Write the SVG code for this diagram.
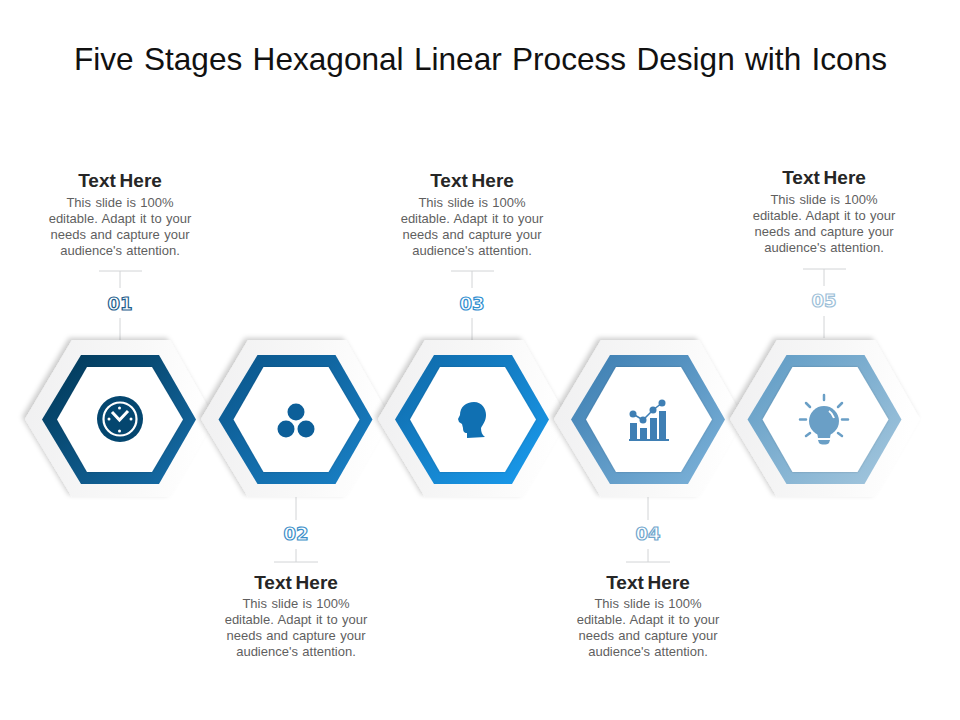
<svg xmlns="http://www.w3.org/2000/svg" width="960" height="720" viewBox="0 0 960 720">
<style>
text{font-family:"Liberation Sans",Arial,sans-serif;text-anchor:middle}
.title{font-size:31.6px;fill:#111;word-spacing:1.5px}
.head{font-size:19px;font-weight:bold;fill:#262626;word-spacing:-1.5px}
.body{font-size:13px;fill:#5f5f5f;word-spacing:.8px}
.num{font-family:"DejaVu Sans",sans-serif;font-size:18px;font-weight:bold;fill:#fff;stroke-width:1.2px}
.line{stroke:#d2d4d6;stroke-width:1;fill:none}
.plate{fill:url(#plate);filter:url(#sh)}
.inner{fill:#fff;filter:url(#in)}
</style>
<defs>
<linearGradient id="plate" x1="0" y1="0" x2="1" y2="0.1"><stop offset="0" stop-color="#f0f0f1"/><stop offset="0.6" stop-color="#f8f8f8"/><stop offset="1" stop-color="#ffffff"/></linearGradient>
<linearGradient id="g1" x1="0" y1="0" x2="1" y2="1"><stop offset="0" stop-color="#003654"/><stop offset="1" stop-color="#176fac"/></linearGradient>
<linearGradient id="g2" x1="0" y1="0" x2="1" y2="1"><stop offset="0" stop-color="#0a5488"/><stop offset="1" stop-color="#1a82c8"/></linearGradient>
<linearGradient id="g3" x1="0" y1="0" x2="1" y2="1"><stop offset="0" stop-color="#0f68a6"/><stop offset="1" stop-color="#1a9df0"/></linearGradient>
<linearGradient id="g4" x1="0" y1="0" x2="1" y2="1"><stop offset="0" stop-color="#3a7cb0"/><stop offset="1" stop-color="#7fb4da"/></linearGradient>
<linearGradient id="g5" x1="0" y1="0" x2="1" y2="1"><stop offset="0" stop-color="#5d9ac4"/><stop offset="1" stop-color="#a6c8de"/></linearGradient>
<filter id="sh" x="-15%" y="-15%" width="130%" height="130%"><feDropShadow dx="-3" dy="-2" stdDeviation="2.500" flood-color="#000" flood-opacity="0.2"/></filter>
<filter id="in" x="-10%" y="-10%" width="120%" height="120%"><feDropShadow dx="0" dy="0" stdDeviation="1" flood-color="#000" flood-opacity="0.2"/></filter>
<polygon id="outer" points="25,419 72,340 170,340 215,419 170,497 72,497"/>
<polygon id="ring" points="42,419.500 81,355 159,355 196,419.500 159,484 81,484"/>
<polygon id="hole" points="57,419.500 87,367 152,367 183,419.500 152,472 87,472"/>
</defs>
<rect width="960" height="720" fill="#fff"/>
<text class="title" x="480.500" y="70">Five Stages Hexagonal Linear Process Design with Icons</text>

<g id="connectors">
<path class="line" d="M99 271H142M120 271V288M120 318V340"/>
<path class="line" d="M296 497V520M296 549V562M274 562H318"/>
<path class="line" d="M451 271H494M472 271V288M472 318V340"/>
<path class="line" d="M648 497V520M648 549V562M626 562H670"/>
<path class="line" d="M803 269H846M824 269V286M824 316V338"/>
</g>

<g id="node1">
<use href="#outer" class="plate"/>
<use href="#ring" fill="url(#g1)"/>
<use href="#hole" class="inner"/>
<circle cx="120" cy="419" r="23" fill="#04466f"/>
<circle cx="120" cy="419" r="16.500" fill="none" stroke="#fff" stroke-width="2.200"/>
<path d="M112 412L119.500 420L128 411" fill="none" stroke="#fff" stroke-width="3"/>
<g fill="#fff"><circle cx="119.500" cy="408" r="1.500"/><circle cx="119.500" cy="431" r="1.500"/><circle cx="109" cy="419" r="1.500"/><circle cx="131" cy="419" r="1.500"/></g>
<text class="num" x="120" y="310" stroke="#1f5f8e">01</text>
<text class="head" x="120" y="187">Text Here</text>
<text class="body" x="120" y="207">This slide is 100%</text>
<text class="body" x="120" y="223">editable. Adapt it to your</text>
<text class="body" x="120" y="239">needs and capture your</text>
<text class="body" x="120" y="255">audience's attention.</text>
</g>

<g id="node2" transform="translate(176 0)">
<use href="#outer" class="plate"/>
<use href="#ring" x="0.500" fill="url(#g2)"/>
<use href="#hole" x="0.500" class="inner"/>
<g fill="#0d5f99"><circle cx="120" cy="412" r="8.500"/><circle cx="110" cy="429" r="8.500"/><circle cx="130" cy="429" r="8.500"/></g>
<text class="num" x="120" y="540" stroke="#3d8fc9">02</text>
<text class="head" x="120" y="589">Text Here</text>
<text class="body" x="120" y="608">This slide is 100%</text>
<text class="body" x="120" y="624">editable. Adapt it to your</text>
<text class="body" x="120" y="640">needs and capture your</text>
<text class="body" x="120" y="656">audience's attention.</text>
</g>

<g id="node3" transform="translate(352 0)">
<use href="#outer" x="1" class="plate"/>
<use href="#ring" x="1" fill="url(#g3)"/>
<use href="#hole" x="1" class="inner"/>
<path d="M106 419L108 415C108 407 114 402 122 402C130 402 134 409 134 415C134 421 131 424 129 428C129 432 130 435 133 437L115 438L115 433C112 433 111 431 111 428L110 424L107 422Z" fill="#1070b2"/>
<text class="num" x="120" y="310" stroke="#2f8ed0">03</text>
<text class="head" x="120" y="187">Text Here</text>
<text class="body" x="120" y="207">This slide is 100%</text>
<text class="body" x="120" y="223">editable. Adapt it to your</text>
<text class="body" x="120" y="239">needs and capture your</text>
<text class="body" x="120" y="255">audience's attention.</text>
</g>

<g id="node4" transform="translate(528 0)">
<use href="#outer" x="1" class="plate"/>
<use href="#ring" x="1" fill="url(#g4)"/>
<use href="#hole" x="1" class="inner"/>
<g fill="#3f7fb4">
<rect x="101" y="439" width="40" height="2"/>
<rect x="102" y="423" width="7" height="16"/><rect x="112" y="428" width="7" height="11"/><rect x="122" y="418" width="7" height="21"/><rect x="131" y="411" width="7" height="28"/>
<circle cx="105" cy="414" r="3.500"/><circle cx="115" cy="420" r="3.500"/><circle cx="125" cy="410" r="3.500"/><circle cx="134" cy="403" r="3.500"/>
<path d="M105 414L115 420L125 410L134 403" fill="none" stroke="#3f7fb4" stroke-width="1.500"/>
</g>
<text class="num" x="120" y="540" stroke="#6fa6cd">04</text>
<text class="head" x="120" y="589">Text Here</text>
<text class="body" x="120" y="608">This slide is 100%</text>
<text class="body" x="120" y="624">editable. Adapt it to your</text>
<text class="body" x="120" y="640">needs and capture your</text>
<text class="body" x="120" y="656">audience's attention.</text>
</g>

<g id="node5" transform="translate(704 0)">
<use href="#outer" x="1" class="plate"/>
<use href="#ring" x="1.500" fill="url(#g5)"/>
<use href="#hole" x="1.500" class="inner"/>
<circle cx="120" cy="421" r="15" fill="#6a9fc6"/>
<path d="M113 432H127L126 438H114Z" fill="#6a9fc6"/>
<path d="M114 440H126L125 443C123 445 117 445 115 443Z" fill="#6a9fc6"/>
<path d="M125 411C128 413 129 415 130 418" fill="none" stroke="#fff" stroke-width="2"/>
<path d="M120 395V400M102 403L106 407M138 403L134 407M96 419.500H102M138 419.500H144M102 436L106 433M138 436L134 433" fill="none" stroke="#6a9fc6" stroke-width="2.500" stroke-linecap="round"/>
<text class="num" x="120" y="307" stroke="#9dc0d8">05</text>
<text class="head" x="120" y="184">Text Here</text>
<text class="body" x="120" y="204">This slide is 100%</text>
<text class="body" x="120" y="220">editable. Adapt it to your</text>
<text class="body" x="120" y="236">needs and capture your</text>
<text class="body" x="120" y="252">audience's attention.</text>
</g>
</svg>
